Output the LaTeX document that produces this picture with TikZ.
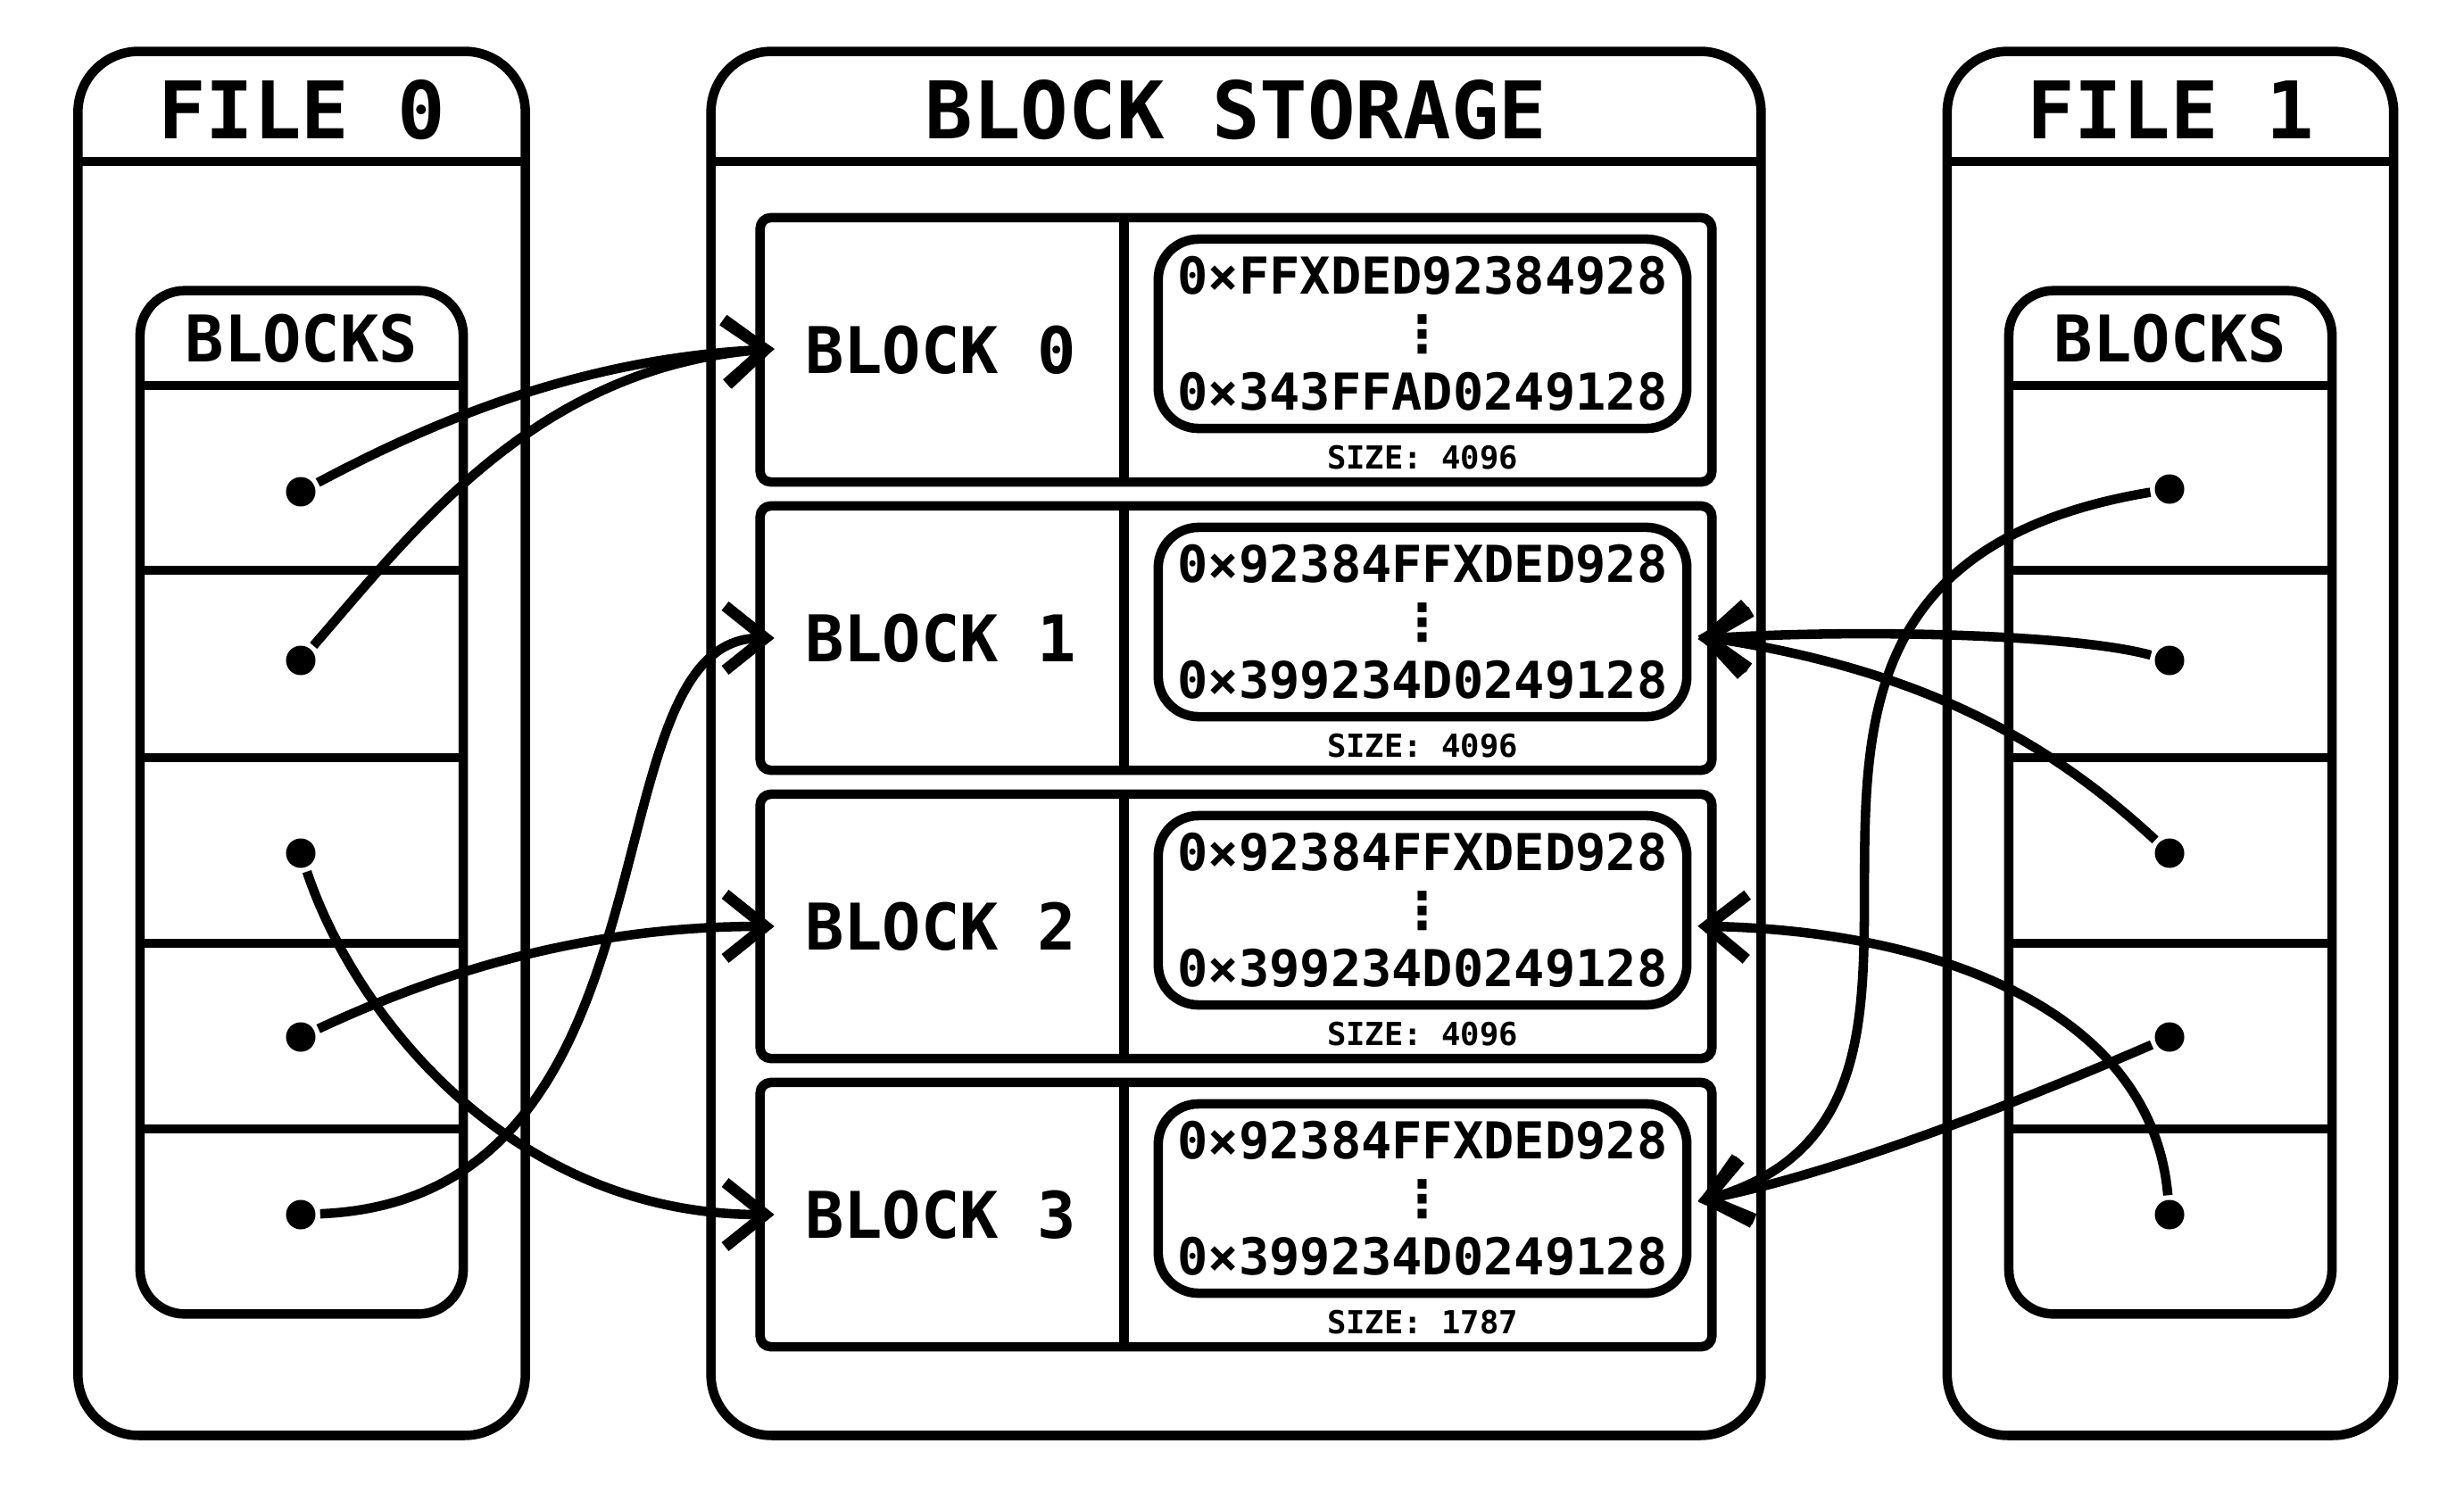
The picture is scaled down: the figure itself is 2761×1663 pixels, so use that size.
\documentclass[tikz,border=0pt]{standalone}
\usepackage{fontspec}
\setmonofont{DejaVu Sans Mono}
\newfontfamily\vdotsfont{DejaVu Sans}
\usetikzlibrary{arrows.meta}

\begin{document}
\begin{tikzpicture}[x=0.01cm,y=-0.01cm,line width=3pt,
	pane/.style={draw,rounded corners=0.68cm,inner sep=0pt,outer sep=0pt},
	list/.style={draw,rounded corners=0.5cm,inner sep=0pt,outer sep=0pt,minimum width=3.62cm,minimum height=11.46cm},
	blk/.style={draw,rounded corners=0.12cm,inner sep=0pt,outer sep=0pt,minimum width=10.66cm,minimum height=2.96cm},
	hexbox/.style={draw,rounded corners=0.45cm,inner sep=0pt,minimum width=5.92cm,minimum height=2.12cm,align=center,font=\ttfamily\bfseries\fontsize{16.2}{18.4}\selectfont},
	title/.style={font=\ttfamily\bfseries\fontsize{25.3}{25.3}\selectfont},
	head/.style={font=\ttfamily\bfseries\fontsize{20.5}{20.5}\selectfont},
	sizetxt/.style={font=\ttfamily\bfseries\fontsize{10.1}{10.1}\selectfont},
	ptr/.style={circle,fill,inner sep=0pt,minimum size=0.33cm},
	link/.style={-{Straight Barb[length=0.45cm,width=0.72cm,line width=3.6pt,line cap=butt,line join=miter]},shorten >=-1.6mm}]
	\path[fill=white,use as bounding box] (0,0) rectangle (2761,1663);

	\node[pane,minimum width=5.01cm,minimum height=15.5cm] (file0) at (338,833) {};
	\node[title] (t0) at (338,123) {FILE 0};
	\draw (88,181) -- (589,181);
	\node[list] (lst0) at (338,899) {};
	\node[head] (h0) at (338,379) {BLOCKS};
	\draw (157,432) -- (519,432);

	\node[pane,minimum width=11.76cm,minimum height=15.5cm] (store) at (1385,833) {};
	\node[title] (ts) at (1385,123) {BLOCK STORAGE};
	\draw (797,181) -- (1973,181);

	\node[pane,minimum width=5.0cm,minimum height=15.5cm] (file1) at (2432,833) {};
	\node[title] (t1) at (2432,123) {FILE 1};
	\draw (2182,181) -- (2682,181);
	\node[list] (lst1) at (2432,899) {};
	\node[head] (h1) at (2432,379) {BLOCKS};
	\draw (2251,432) -- (2613,432);

	\foreach \y in {639,849,1057,1265}{
		\draw (157,\y) -- (519,\y);
		\draw (2251,\y) -- (2613,\y);
	}

	\node[blk] (blk0) at (1385,392) {};
	\draw (blk0.north west) ++(408,0) -- ++(0,296);
	\node[head] (l0) at (1054,392) {BLOCK 0};
	\node[hexbox] (hex0) at (1594,374) {0×FFXDED92384928\\{\vdotsfont ⋮}\\0×343FFAD0249128};
	\node[sizetxt] (s0) at (1594,513) {SIZE: 4096};

	\node[blk] (blk1) at (1385,715) {};
	\draw (blk1.north west) ++(408,0) -- ++(0,296);
	\node[head] (l1) at (1054,715) {BLOCK 1};
	\node[hexbox] (hex1) at (1594,697) {0×92384FFXDED928\\{\vdotsfont ⋮}\\0×399234D0249128};
	\node[sizetxt] (s1) at (1594,836) {SIZE: 4096};

	\node[blk] (blk2) at (1385,1038) {};
	\draw (blk2.north west) ++(408,0) -- ++(0,296);
	\node[head] (l2) at (1054,1038) {BLOCK 2};
	\node[hexbox] (hex2) at (1594,1020) {0×92384FFXDED928\\{\vdotsfont ⋮}\\0×399234D0249128};
	\node[sizetxt] (s2) at (1594,1159) {SIZE: 4096};

	\node[blk] (blk3) at (1385,1361) {};
	\draw (blk3.north west) ++(408,0) -- ++(0,296);
	\node[head] (l3) at (1054,1361) {BLOCK 3};
	\node[hexbox] (hex3) at (1594,1343) {0×92384FFXDED928\\{\vdotsfont ⋮}\\0×399234D0249128};
	\node[sizetxt] (s3) at (1594,1482) {SIZE: 1787};

	\node[ptr] (a1) at (337,551) {};
	\node[ptr] (a2) at (337,740) {};
	\node[ptr] (a3) at (337,956) {};
	\node[ptr] (a4) at (337,1162) {};
	\node[ptr] (a5) at (337,1361) {};
	\node[ptr] (b1) at (2431,548) {};
	\node[ptr] (b2) at (2431,740) {};
	\node[ptr] (b3) at (2431,956) {};
	\node[ptr] (b4) at (2431,1162) {};
	\node[ptr] (b5) at (2431,1361) {};

	\draw[link] (a1) .. controls +(150,-80) and +(-200,10) .. (blk0.west);
	\draw[link] (a2) .. controls +(130,-150) and +(-250,20) .. (blk0.west);
	\draw[link] (a3) .. controls +(60,180) and +(-280,0) .. (blk3.west);
	\draw[link] (a4) .. controls +(150,-70) and +(-200,0) .. (blk2.west);
	\draw[link] (a5) .. controls +(440,-18) and +(-200,0) .. (blk1.west);

	\draw[link] (b1) .. controls +(-600,100) and +(380,-110) .. (blk3.2);
	\draw[link] (b2) .. controls +(-100,-28) and +(182,-11) .. (blk1.east);
	\draw[link] (b3) .. controls +(-140,-130) and +(230,35) .. (blk1.east);
	\draw[link] (b4) .. controls +(-150,65) and +(150,-30) .. (blk3.2);
	\draw[link] (b5) .. controls +(-20,-230) and +(250,5) .. (blk2.east);
\end{tikzpicture}
\end{document}
